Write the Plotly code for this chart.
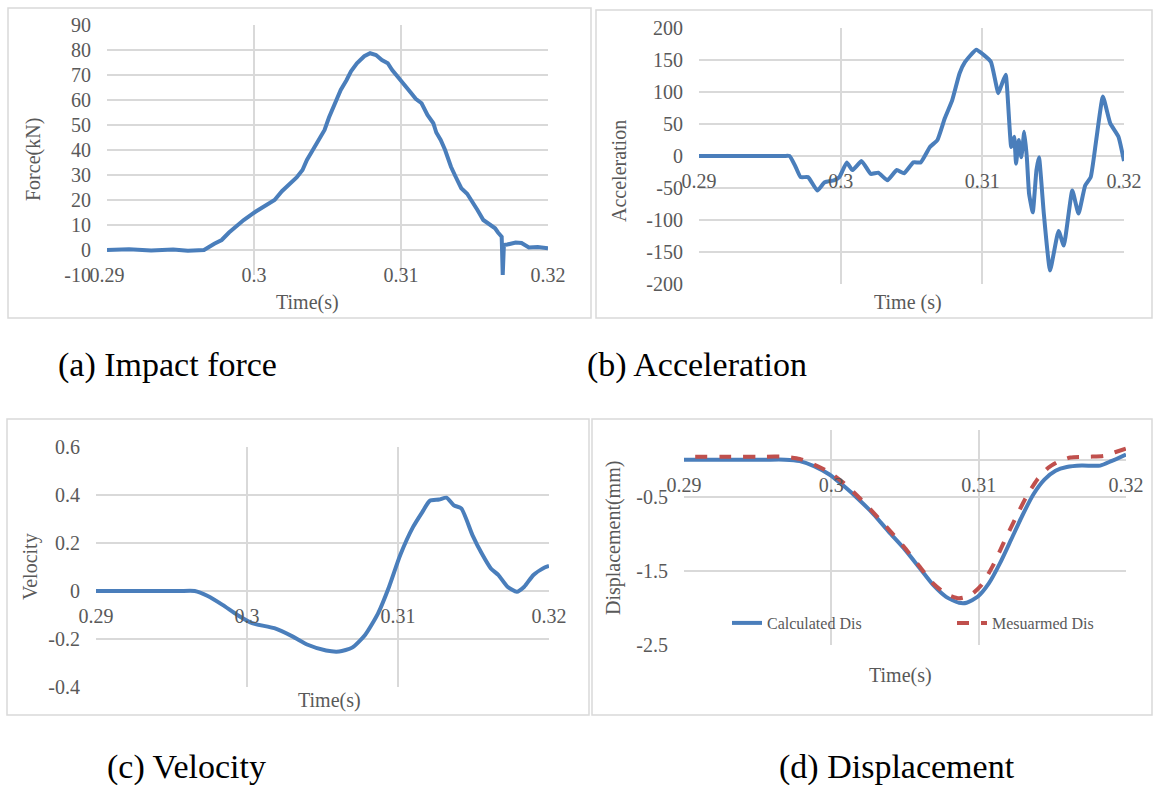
import plotly.graph_objects as go

# ---------------- data ----------------
x_tick_vals = [0.29, 0.30, 0.31, 0.32]
x_tick_text = ["0.29", "0.3", "0.31", "0.32"]

force_t = [0.2900, 0.2915, 0.2930, 0.2945, 0.2955, 0.2966, 0.2973, 0.2978, 0.2983, 0.2988,
           0.2993, 0.3001, 0.3008, 0.3014, 0.3019, 0.3024, 0.3029, 0.3033, 0.3036, 0.3040,
           0.3044, 0.3048, 0.3051, 0.3055, 0.3059, 0.3063, 0.3066, 0.3070, 0.3075, 0.3079,
           0.3083, 0.3087, 0.3091, 0.3094, 0.3098, 0.3102, 0.3107, 0.3110, 0.3114, 0.3118,
           0.3122, 0.3124, 0.3127, 0.3130, 0.3132, 0.3134, 0.3137, 0.3141, 0.3145, 0.3148,
           0.3152, 0.3156, 0.3160, 0.3164, 0.3166, 0.31685, 0.31692, 0.31700, 0.31723, 0.3178,
           0.3182, 0.3187, 0.3193, 0.3200]
force_kn = [0.0, 0.3, -0.2, 0.2, -0.3, 0.0, 2.5, 4.0, 7.0, 9.5,
            12.0, 15.3, 18.0, 20.0, 23.5, 26.0, 29.0, 32.0, 36.0, 40.0,
            44.0, 48.0, 53.0, 58.7, 64.0, 68.0, 71.5, 74.7, 77.5, 78.7,
            78.0, 76.0, 74.7, 72.0, 69.3, 66.0, 62.7, 60.5, 58.7, 54.0,
            50.7, 47.0, 44.0, 40.0, 36.0, 33.3, 29.5, 24.7, 22.5, 20.0,
            16.0, 12.0, 10.5, 8.7, 7.0, 5.3, -10.0, 2.0, 2.2, 3.0,
            2.8, 1.0, 1.2, 0.7]

acc_t = [0.2900, 0.2930, 0.2960, 0.29639, 0.29678, 0.29717, 0.29770, 0.29835, 0.29887, 0.29952,
         0.29991, 0.30043, 0.30083, 0.30148, 0.30213, 0.30265, 0.30330, 0.30396, 0.30448, 0.30513,
         0.30565, 0.30630, 0.30683, 0.30735, 0.30787, 0.30839, 0.30878, 0.30957, 0.31009, 0.31061,
         0.31113, 0.31139, 0.31165, 0.31204, 0.31225, 0.31238, 0.31257, 0.31275, 0.31296, 0.31314,
         0.31330, 0.31356, 0.31382, 0.31400, 0.31434, 0.31478, 0.31538, 0.31575, 0.31635, 0.31679,
         0.31726, 0.31765, 0.31804, 0.31851, 0.31903, 0.31961, 0.32000]
acc_val = [0, 0, 0, 0, -15, -33, -33, -54, -41, -38,
           -33, -10, -22, -8, -28, -26, -38, -22, -27, -10,
           -10, 14, 25, 59, 87, 129, 147, 166, 158, 147,
           98, 113, 127, 14, 30, -12, 25, -2, 38, -2,
           -59, -88, -22, -2, -90, -179, -117, -140, -54, -90,
           -46, -33, 25, 93, 51, 30, -8]

vel_t = [0.2900, 0.2930, 0.2955, 0.29654, 0.29740, 0.29838, 0.29936, 0.30034, 0.30181, 0.30304,
         0.30402, 0.30524, 0.30610, 0.30696, 0.30782, 0.30868, 0.30941, 0.31015, 0.31100, 0.31162,
         0.31211, 0.31272, 0.31321, 0.31370, 0.31419, 0.31493, 0.31554, 0.31615, 0.31664, 0.31725,
         0.31787, 0.31836, 0.31897, 0.31971, 0.32000]
vel_val = [0.0, 0.0, 0.0, 0.0, -0.021, -0.058, -0.100, -0.134, -0.155, -0.190,
           -0.224, -0.248, -0.252, -0.236, -0.183, -0.093, 0.018, 0.150, 0.267, 0.330,
           0.376, 0.381, 0.389, 0.357, 0.344, 0.233, 0.157, 0.094, 0.067, 0.018,
           -0.003, 0.018, 0.067, 0.098, 0.104]

calc_t = [0.2900, 0.2930, 0.2955, 0.29685, 0.29785, 0.29886, 0.29987, 0.30087, 0.30188, 0.30289,
          0.30389, 0.30490, 0.30591, 0.30691, 0.30779, 0.30867, 0.30918, 0.30993, 0.31069, 0.31144,
          0.31220, 0.31295, 0.31371, 0.31446, 0.31522, 0.31598, 0.31699, 0.31825, 0.31900, 0.32000]
calc_dis = [0.0, 0.0, 0.0, 0.0, -0.02, -0.09, -0.20, -0.36, -0.54, -0.74,
            -0.97, -1.19, -1.44, -1.69, -1.85, -1.93, -1.93, -1.85, -1.67, -1.40,
            -1.08, -0.76, -0.47, -0.27, -0.15, -0.10, -0.08, -0.08, -0.02, 0.07]

meas_t = [0.29076, 0.2930, 0.2955, 0.29685, 0.29785, 0.29886, 0.29987, 0.30087, 0.30188, 0.30289,
          0.30389, 0.30490, 0.30591, 0.30691, 0.30779, 0.30867, 0.30943, 0.31019, 0.31094, 0.31170,
          0.31245, 0.31321, 0.31397, 0.31472, 0.31548, 0.31623, 0.31749, 0.31850, 0.31925, 0.32000]
meas_dis = [0.04, 0.04, 0.04, 0.04, 0.01, -0.07, -0.17, -0.32, -0.51, -0.72,
            -0.94, -1.17, -1.42, -1.67, -1.81, -1.87, -1.83, -1.69, -1.44, -1.12,
            -0.81, -0.51, -0.27, -0.11, -0.02, 0.03, 0.04, 0.05, 0.10, 0.15]

force_ticks = [-10, 0, 10, 20, 30, 40, 50, 60, 70, 80, 90]
acc_ticks = [-200, -150, -100, -50, 0, 50, 100, 150, 200]
vel_ticks = [-0.4, -0.2, 0, 0.2, 0.4, 0.6]
vel_tick_text = ["-0.4", "-0.2", "0", "0.2", "0.4", "0.6"]
dis_ticks = [-2.5, -1.5, -0.5]
dis_tick_text = ["-2.5", "-1.5", "-0.5"]

series_names = ["Calculated Dis", "Mesuarmed Dis"]
captions = ["(a) Impact force", "(b) Acceleration", "(c) Velocity", "(d) Displacement"]

# ---------------- layout helpers ----------------
W, H = 1155, 785
FONT = "Liberation Serif"
GREY = "#595959"
GRID = "#d9d9d9"
BLUE = "#4a7ebb"
RED = "#c0504d"

def px(x):
    return x / W

def py(y):
    return 1 - y / H

panels = {
    "a": dict(box=(107, 548, 25, 275), yr=(-10, 90)),
    "b": dict(box=(699, 1124, 28, 284), yr=(-200, 200)),
    "c": dict(box=(96, 549, 447, 687), yr=(-0.4, 0.6)),
    "d": dict(box=(684, 1126, 430, 645), yr=(-2.5, 0.4)),
}

fig = go.Figure()

fig.add_trace(go.Scatter(x=force_t, y=force_kn, mode="lines", line=dict(color=BLUE, width=4),
                         xaxis="x", yaxis="y", showlegend=False))
fig.add_trace(go.Scatter(x=acc_t, y=acc_val, mode="lines", line=dict(color=BLUE, width=4, shape="spline", smoothing=0.4),
                         xaxis="x2", yaxis="y2", showlegend=False))
fig.add_trace(go.Scatter(x=vel_t, y=vel_val, mode="lines", line=dict(color=BLUE, width=4, shape="spline", smoothing=0.6),
                         xaxis="x3", yaxis="y3", showlegend=False))
fig.add_trace(go.Scatter(x=calc_t, y=calc_dis, mode="lines", name=series_names[0],
                         line=dict(color=BLUE, width=4, shape="spline", smoothing=0.6),
                         xaxis="x4", yaxis="y4", legend="legend"))
fig.add_trace(go.Scatter(x=meas_t, y=meas_dis, mode="lines", name=series_names[1],
                         line=dict(color=RED, width=4, dash="dash", shape="spline", smoothing=0.6),
                         xaxis="x4", yaxis="y4", legend="legend2"))

tickfont = dict(family=FONT, size=20, color=GREY)
layout = {}
yticks = {"a": (force_ticks, [str(v) for v in force_ticks]),
          "b": (acc_ticks, [str(v) for v in acc_ticks]),
          "c": (vel_ticks, vel_tick_text),
          "d": (dis_ticks, dis_tick_text)}
for i, key in enumerate(["a", "b", "c", "d"]):
    p = panels[key]
    x0, x1, yt, yb = p["box"]
    ymin, ymax = p["yr"]
    ydom = [py(yb), py(yt)]
    zero_pos = ydom[0] + (0 - ymin) / (ymax - ymin) * (ydom[1] - ydom[0])
    sfx = "" if i == 0 else str(i + 1)
    layout["xaxis" + sfx] = dict(
        domain=[px(x0), px(x1)], range=[0.29 - 1e-7, 0.32 + 1e-7],
        tickvals=x_tick_vals, ticktext=x_tick_text, tickfont=tickfont,
        showgrid=True, gridcolor=GRID, gridwidth=1.5, zeroline=False, showline=False,
        ticks="", anchor="free", position=zero_pos, ticklabelstandoff=11,
        automargin=False, fixedrange=True)
    tv, tt = yticks[key]
    span = ymax - ymin
    layout["yaxis" + sfx] = dict(
        domain=ydom, range=[ymin - span * 1e-6, ymax + span * 1e-6],
        tickvals=tv, ticktext=tt, tickfont=tickfont,
        showgrid=True, gridcolor=GRID, gridwidth=1.5,
        zeroline=True, zerolinecolor=GRID, zerolinewidth=1.5, showline=False,
        ticks="", anchor="x" + sfx, ticklabelstandoff=15,
        automargin=False, fixedrange=True)

annos = []
def label(text, x, y, size=20, color=GREY, angle=0, xanchor="center"):
    annos.append(dict(text=text, x=px(x), y=py(y), xref="paper", yref="paper",
                      showarrow=False, textangle=angle, xanchor=xanchor, yanchor="middle",
                      font=dict(family=FONT, size=size, color=color)))

label("Time(s)", 307, 302)
label("Time (s)", 908, 302)
label("Time(s)", 329, 700)
label("Time(s)", 900, 675)
label("Force(kN)", 34, 160, angle=-90)
label("Acceleration", 619, 171, angle=-90)
label("Velocity", 30, 567, angle=-90)
label("Displacement(mm)", 613, 538, angle=-90)
label(captions[0], 56, 365, size=34, color="black", xanchor="left")
label(captions[1], 585, 365, size=34, color="black", xanchor="left")
label(captions[2], 105, 767, size=34, color="black", xanchor="left")
label(captions[3], 777, 767, size=34, color="black", xanchor="left")

shapes = []
for (bx0, by0, bx1, by1) in [(8, 8, 591, 318), (596, 10, 1152, 318), (7, 419, 589, 715), (592, 419, 1152, 715)]:
    shapes.append(dict(type="rect", xref="paper", yref="paper", x0=px(bx0), x1=px(bx1),
                       y0=py(by1), y1=py(by0), line=dict(color=GRID, width=1.5), layer="below"))

legfont = dict(family=FONT, size=16, color=GREY)
fig.update_layout(
    width=W, height=H, margin=dict(l=0, r=0, t=0, b=0, pad=0, autoexpand=False),
    paper_bgcolor="white", plot_bgcolor="white",
    annotations=annos, shapes=shapes,
    legend=dict(x=px(727), y=py(623), xanchor="left", yanchor="middle",
                font=legfont, bgcolor="rgba(0,0,0,0)", itemwidth=30),
    legend2=dict(x=px(952), y=py(623), xanchor="left", yanchor="middle",
                 font=legfont, bgcolor="rgba(0,0,0,0)", itemwidth=30),
    **layout,
)

fig.write_html("out.html")
